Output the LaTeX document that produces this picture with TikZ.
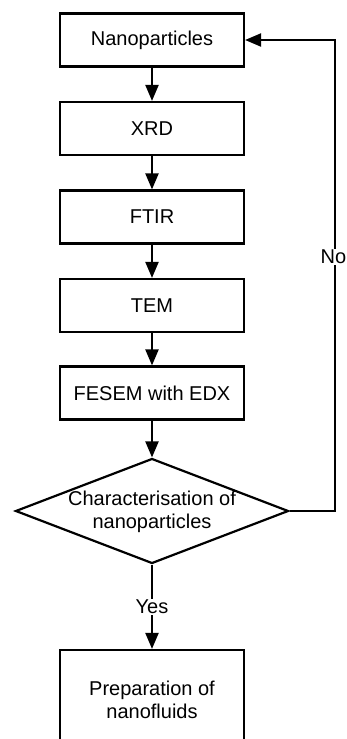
\documentclass[tikz,border=0pt]{standalone}
\usepackage{fontspec}
\setmainfont{Liberation Sans}
\usetikzlibrary{arrows.meta,shapes.geometric}
\begin{document}
\begin{tikzpicture}[x=1pt,y=-1pt,
  every node/.style={font=\fontsize{20}{23}\selectfont},
  box/.style={draw,line width=2.2pt,minimum width=184pt,minimum height=53pt,inner sep=0pt,align=center},
  dec/.style={draw,diamond,line width=2.2pt,minimum width=273pt,minimum height=105pt,inner sep=0pt},
  conn/.style={line width=2.2pt,-{Triangle[length=16pt,width=13pt]}},
  lbl/.style={fill=white,inner sep=1pt}]
\useasboundingbox (0,0) rectangle (346,739);
\clip (0,0) rectangle (346,739);
\node[box] (n1) at (152,40) {Nanoparticles};
\node[box] (n2) at (152,128.5) {XRD};
\node[box] (n3) at (152,217) {FTIR};
\node[box] (n4) at (152,305.5) {TEM};
\node[box] (n5) at (152,393) {FESEM with EDX};
\node[dec] (d) at (152,511) {};
\node[align=center] (dt) at (152,512) {Characterisation of\\nanoparticles};
\node[box,minimum height=100pt] (n6) at (152,700) {Preparation of\\nanofluids};
\coordinate (c1) at (335,511);
\draw[conn] (n1) -- (n2);
\draw[conn] (n2) -- (n3);
\draw[conn] (n3) -- (n4);
\draw[conn] (n4) -- (n5);
\draw[conn] (n5) -- (d);
\draw[conn] (d.south) -- node[lbl] {Yes} (n6);
\draw[conn] (d.east) -- (c1) |- node[lbl,pos=0.27,xshift=-1.5pt,inner xsep=0pt] {No} (n1.east);
\end{tikzpicture}
\end{document}
